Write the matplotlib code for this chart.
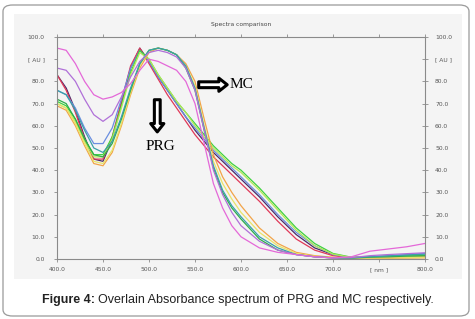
import matplotlib
matplotlib.use("Agg")
import matplotlib.pyplot as plt
from matplotlib.patches import FancyBboxPatch, Rectangle

# wavelength grid (nm) shared by every spectrum
wavelength = [400, 410, 420, 430, 440, 450, 460, 470, 480, 490, 500, 510, 520, 530, 540,
              550, 560, 570, 580, 590, 600, 620, 640, 660, 680, 700, 720, 740, 760, 780, 800]

# PRG spectra (peak near 488 nm, slow decay)
prg_dark = [83, 77, 67, 55, 45, 44, 54, 70, 86, 95, 89, 82, 76, 70, 64,
            58, 53, 48, 44, 40, 36, 28, 19, 11, 5, 2, 0.6, 0.8, 1.0, 1.2, 1.5]
prg_red = [83, 76, 66, 54, 45, 45, 55, 71, 87, 95, 88, 81, 74, 68, 62,
           56, 51, 46, 42, 38, 34, 26, 17, 9, 4, 1.5, 0.5, 0.5, 0.6, 0.8, 1.0]
prg_blue = [76, 74, 68, 59, 52, 52, 59, 72, 86, 94, 89, 82, 76, 70, 64,
            59, 54, 49, 45, 41, 37, 29, 20, 12, 6, 2, 0.6, 1.0, 1.5, 2.0, 2.5]
prg_green = [71, 69, 63, 54, 47, 47, 55, 69, 84, 94, 90, 83, 77, 71, 66,
             61, 56, 51, 47, 43, 40, 32, 23, 14, 7, 2.5, 0.8, 1.0, 1.2, 1.5, 1.8]
prg_lime = [70, 68, 62, 53, 46, 46, 54, 68, 83, 93, 90, 83, 77, 71, 66,
            60, 55, 50, 46, 42, 39, 31, 22, 13, 6, 2.2, 0.7, 0.8, 1.0, 1.2, 1.4]

# MC spectra (broad band 505-535 nm, steep drop after 545 nm)
mc_orange = [69, 67, 60, 51, 43, 42, 48, 60, 74, 86, 93, 95, 94, 92, 88,
             80, 63, 47, 37, 30, 24, 14, 7, 3, 1.5, 0.8, 0.4, 0.3, 0.3, 0.4, 0.5]
mc_yellow = [70, 68, 61, 52, 44, 43, 49, 61, 75, 87, 94, 95, 94, 92, 87,
             78, 60, 44, 34, 27, 21, 12, 6, 2.5, 1.2, 0.6, 0.4, 0.4, 0.5, 0.6, 0.8]
mc_green = [72, 70, 63, 54, 47, 46, 52, 63, 76, 88, 94, 95, 94, 92, 86,
            76, 58, 41, 30, 23, 18, 9, 4, 2, 1, 0.5, 0.4, 0.8, 1.0, 1.3, 1.5]
mc_teal = [76, 74, 67, 58, 50, 48, 53, 64, 77, 88, 94, 95, 94, 92, 87,
           77, 59, 42, 31, 24, 19, 10, 5, 2, 1, 0.5, 0.5, 1.0, 1.4, 1.8, 2.2]
mc_violet = [86, 85, 80, 72, 65, 62, 65, 73, 82, 89, 93, 94, 93, 91, 86,
             76, 58, 40, 29, 21, 15, 8, 4, 2, 1, 0.5, 0.6, 1.5, 2.0, 2.4, 2.8]
mc_magenta = [95, 94, 88, 80, 74, 72, 73, 75, 79, 85, 90, 89, 87, 85, 80,
              70, 52, 34, 23, 15, 10, 5, 3, 2, 1, 0.5, 1.0, 3.5, 4.5, 5.5, 7.0]

series = [prg_dark, prg_red, prg_blue, prg_green, prg_lime,
          mc_orange, mc_yellow, mc_green, mc_teal, mc_violet, mc_magenta]
colors = ["#4a2a68", "#e03858", "#6a8ee0", "#3ed23e", "#b4e858",
          "#f2a448", "#e8e468", "#2fae4a", "#3aa0a8", "#b070d8", "#e468d8"]

xticks = [400, 450, 500, 550, 600, 650, 700, 750, 800]
xtick_labels = ["400.0", "450.0", "500.0", "550.0", "600.0", "650.0", "700.0", "[ nm ]", "800.0"]
yticks = [0, 10, 20, 30, 40, 50, 60, 70, 80, 90, 100]
ytick_labels = ["0.0", "10.0", "20.0", "30.0", "40.0", "50.0", "60.0", "70.0", "80.0", "[ AU ]", "100.0"]

W, H = 475, 319
fig = plt.figure(figsize=(W / 100, H / 100), dpi=100)
fig.patch.set_facecolor("white")

# outer rounded frame and grey panel behind the chart
frame = FancyBboxPatch((3 / W, 3 / H), 466 / W, 311 / H, boxstyle="round,pad=0,rounding_size=0.02",
                       transform=fig.transFigure, fc="white", ec="#9a9a9a", lw=0.9, zorder=-2)
fig.patches.append(frame)
panel = Rectangle((14 / W, (H - 279) / H), 448 / W, 265 / H, transform=fig.transFigure,
                  fc="#f4f4f4", ec="none", zorder=-1)
fig.patches.append(panel)

ax = fig.add_axes([57 / W, (H - 259) / H, 368 / W, 222 / H])
ax.set_facecolor("#f4f4f4")

for values, color in zip(series, colors):
    ax.plot(wavelength, values, color=color, lw=0.9)

ax.set_xlim(400, 800)
ax.set_ylim(0, 100)
for side in ["left", "bottom", "top", "right"]:
    ax.spines[side].set_color("#8a8a8a")
    ax.spines[side].set_linewidth(0.8)

ax.set_xticks(xticks)
ax.set_xticklabels(xtick_labels)
ax.set_yticks(yticks)
ax.set_yticklabels(ytick_labels)
ax.tick_params(axis="x", direction="out", length=2.5, width=0.6, color="#8a8a8a",
               labelsize=4.3, labelcolor="#555555", pad=3.2, top=True)
ax.tick_params(axis="y", direction="out", length=2, width=0.6, color="#8a8a8a",
               labelsize=4.3, labelcolor="#555555", pad=7)
ax.set_title("Spectra comparison", fontsize=4.3, color="#444444", pad=8)

# right-hand scale with ticks crossing the spine
ax_r = ax.twinx()
ax_r.set_ylim(0, 100)
ax_r.set_yticks(yticks)
ax_r.set_yticklabels(ytick_labels)
ax_r.tick_params(axis="y", direction="inout", length=4.5, width=0.6, color="#8a8a8a",
                 labelsize=4.3, labelcolor="#555555", pad=5)
for side in ["left", "bottom", "top", "right"]:
    ax_r.spines[side].set_visible(False)

# hollow arrows with labels
arrow_style = "simple,head_length=0.6,head_width=0.95,tail_width=0.42"
ax.annotate("", xy=(588, 78.5), xytext=(551, 78.5),
            arrowprops=dict(arrowstyle=arrow_style, fc="white", ec="black", lw=2.2))
ax.text(587, 78.5, "MC", family="Liberation Serif", fontsize=11, va="center", ha="left")
ax.annotate("", xy=(509, 56), xytext=(509, 73),
            arrowprops=dict(arrowstyle=arrow_style, fc="white", ec="black", lw=2.2))
ax.text(512, 50.5, "PRG", family="Liberation Serif", fontsize=11, va="center", ha="center")

# caption: bold lead plus regular text
cap_y = 1 - 300 / H
bold = fig.text(42 / W, cap_y, "Figure 4:", family="Liberation Sans", fontsize=9,
                fontweight="bold", va="center", ha="left", color="#222222")
fig.canvas.draw()
bb = bold.get_window_extent()
fig.text(bb.x1 / W + 3 / W, cap_y, "Overlain Absorbance spectrum of PRG and MC respectively.",
         family="Liberation Sans", fontsize=9, va="center", ha="left", color="#222222")

fig.savefig("out.png", dpi=100)
